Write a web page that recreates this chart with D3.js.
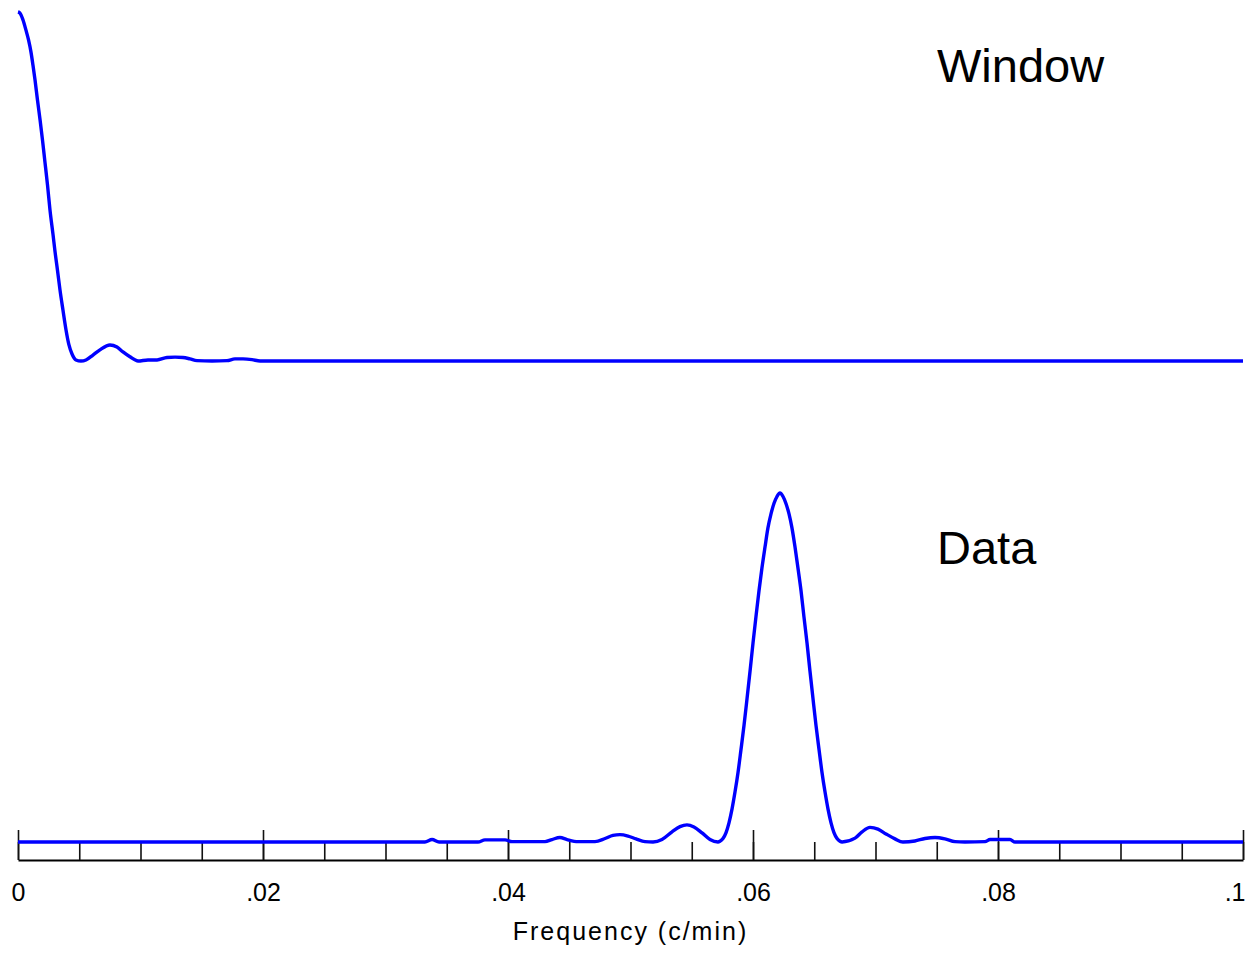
<!DOCTYPE html>
<html>
<head>
<meta charset="utf-8">
<script src="https://cdn.jsdelivr.net/npm/d3@7"></script>
<style>
  html, body { margin: 0; padding: 0; background: #fff; }
  svg { display: block; }
  text { font-family: "Liberation Sans", Arial, sans-serif; fill: #000; }
</style>
</head>
<body>
<svg id="chart" width="1251" height="954"></svg>
<script>
// Spectral window (normalised power) against frequency, c/min
const windowFreq = [0, 0.00016, 0.00041, 0.00065, 0.00086, 0.00106, 0.00122, 0.00139, 0.00159, 0.0018,
  0.002, 0.0022, 0.00241, 0.00261, 0.00286, 0.00302, 0.00322, 0.00343, 0.00367, 0.00392,
  0.00416, 0.00441, 0.00473, 0.00514, 0.00555, 0.00612, 0.00669, 0.00751, 0.00808, 0.00857,
  0.00914, 0.0098, 0.01061, 0.01135, 0.01216, 0.01282, 0.01347, 0.01404, 0.01461, 0.01584,
  0.01706, 0.01771, 0.01837, 0.0191, 0.01976, 0.02139, 0.1];
const windowAmp = [1.0, 0.997, 0.977, 0.948, 0.92, 0.885, 0.848, 0.805, 0.748, 0.691,
  0.633, 0.57, 0.504, 0.433, 0.362, 0.314, 0.261, 0.203, 0.146, 0.089,
  0.046, 0.02, 0.003, 0, 0.003, 0.017, 0.032, 0.046, 0.04, 0.026,
  0.012, 0, 0.003, 0.003, 0.01, 0.011, 0.01, 0.006, 0.001, 0,
  0.001, 0.006, 0.006, 0.004, 0, 0, 0];

// Spectrum of the data (normalised power)
const dataFreq = [0, 0.03322, 0.0338, 0.03437, 0.03755, 0.03812, 0.03976, 0.04033, 0.04302, 0.04359,
  0.04424, 0.04482, 0.04571, 0.0471, 0.04792, 0.04857, 0.04914, 0.0498, 0.05045, 0.05118,
  0.05184, 0.05257, 0.05339, 0.05404, 0.05461, 0.05518, 0.05584, 0.05649, 0.05714,
  0.0573, 0.05755, 0.0578, 0.05804, 0.05829, 0.05853, 0.05878, 0.05902, 0.05927, 0.05951,
  0.05976, 0.06, 0.06024, 0.06049, 0.06073, 0.06098, 0.06122, 0.06147, 0.06171, 0.06196,
  0.0622,
  0.06245, 0.06269, 0.06294, 0.06318, 0.06343, 0.06367, 0.06392, 0.06416, 0.06441, 0.06465,
  0.0649, 0.06514, 0.06539, 0.06563, 0.06588, 0.06612, 0.06637, 0.06661, 0.06686, 0.0671,
  0.06727,
  0.06833, 0.0689, 0.06955, 0.0702, 0.07086, 0.07159, 0.07224, 0.07322, 0.07404, 0.07486,
  0.07567, 0.07649, 0.0773, 0.07894, 0.07935, 0.08098, 0.08139, 0.1];
const dataAmp = [0, 0, 0.007, 0, 0, 0.006, 0.006, 0.001, 0.001, 0.007,
  0.013, 0.007, 0.001, 0.001, 0.01, 0.019, 0.021, 0.017, 0.009, 0.001,
  0, 0.007, 0.029, 0.044, 0.049, 0.043, 0.026, 0.007, 0,
  0.002, 0.01, 0.027, 0.055, 0.095, 0.143, 0.2, 0.265, 0.335, 0.41,
  0.49, 0.57, 0.645, 0.72, 0.785, 0.845, 0.9, 0.94, 0.97, 0.99,
  1.0,
  0.99, 0.97, 0.94, 0.9, 0.845, 0.785, 0.72, 0.645, 0.57, 0.49,
  0.41, 0.335, 0.265, 0.2, 0.143, 0.095, 0.055, 0.027, 0.01, 0.002,
  0,
  0.011, 0.029, 0.042, 0.037, 0.023, 0.009, 0, 0.003, 0.01, 0.013,
  0.009, 0.001, 0, 0.001, 0.007, 0.007, 0, 0];

// Axis ticks
const minorTicks = [0, 0.005, 0.01, 0.015, 0.02, 0.025, 0.03, 0.035, 0.04, 0.045, 0.05,
  0.055, 0.06, 0.065, 0.07, 0.075, 0.08, 0.085, 0.09, 0.095, 0.1];
const majorTicks = [0, 0.02, 0.04, 0.06, 0.08, 0.1];
const tickLabels = ["0", ".02", ".04", ".06", ".08", ".1"];

const panelNames = ["Window", "Data"];
const axisTitle = "Frequency (c/min)";

const svg = d3.select("#chart");

const x = d3.scaleLinear().domain([0, 0.1]).range([18, 1243]);
const yWindow = d3.scaleLinear().domain([0, 1]).range([361, 12]);
const yData = d3.scaleLinear().domain([0, 1]).range([842, 493]);

// Axis (ticks point upward from the base line)
const axisY = 860;
const axisG = svg.append("g").attr("transform", `translate(0,${axisY})`);

axisG.append("g")
  .call(d3.axisBottom(x).tickValues(minorTicks).tickSizeInner(-18).tickSizeOuter(0).tickFormat(""))
  .call(g => g.select(".domain").attr("stroke", "#000").attr("stroke-width", 1.8))
  .call(g => g.selectAll(".tick line").attr("stroke", "#111").attr("stroke-width", 1.6));

axisG.append("g")
  .call(d3.axisBottom(x).tickValues(majorTicks).tickSizeInner(-30).tickSizeOuter(0)
    .tickPadding(23).tickFormat((d, i) => tickLabels[i]))
  .call(g => g.select(".domain").remove())
  .call(g => g.selectAll(".tick line").attr("stroke", "#111").attr("stroke-width", 1.6))
  .call(g => g.selectAll(".tick text")
    .attr("fill", "#000")
    .style("font-family", "'Liberation Sans', Arial, sans-serif")
    .style("font-size", "25px"))
  // the last label sits flush against the right end of the axis
  .call(g => g.selectAll(".tick text")
    .filter((d, i, nodes) => i === nodes.length - 1)
    .attr("text-anchor", "end")
    .attr("dx", 2));

svg.append("text")
  .attr("x", (x(0) + x(0.1)) / 2)
  .attr("y", 940)
  .attr("text-anchor", "middle")
  .style("font-size", "25px")
  .style("letter-spacing", "2px")
  .text(axisTitle);

// Curves
const windowPts = windowFreq.map((f, i) => [f, windowAmp[i]]);
const dataPts = dataFreq.map((f, i) => [f, dataAmp[i]]);

const lineWindow = d3.line().x(d => x(d[0])).y(d => yWindow(d[1])).curve(d3.curveMonotoneX);
const lineData = d3.line().x(d => x(d[0])).y(d => yData(d[1])).curve(d3.curveMonotoneX);

svg.append("path")
  .datum(windowPts)
  .attr("d", lineWindow)
  .attr("fill", "none")
  .attr("stroke", "#0000ff")
  .attr("stroke-width", 3.4)
  .attr("stroke-linejoin", "round");

svg.append("path")
  .datum(dataPts)
  .attr("d", lineData)
  .attr("fill", "none")
  .attr("stroke", "#0000ff")
  .attr("stroke-width", 3.4)
  .attr("stroke-linejoin", "round");

// Panel labels
svg.append("text").attr("x", 937).attr("y", 82)
  .style("font-size", "47px").text(panelNames[0]);
svg.append("text").attr("x", 937).attr("y", 564)
  .style("font-size", "47px").text(panelNames[1]);
</script>
</body>
</html>
